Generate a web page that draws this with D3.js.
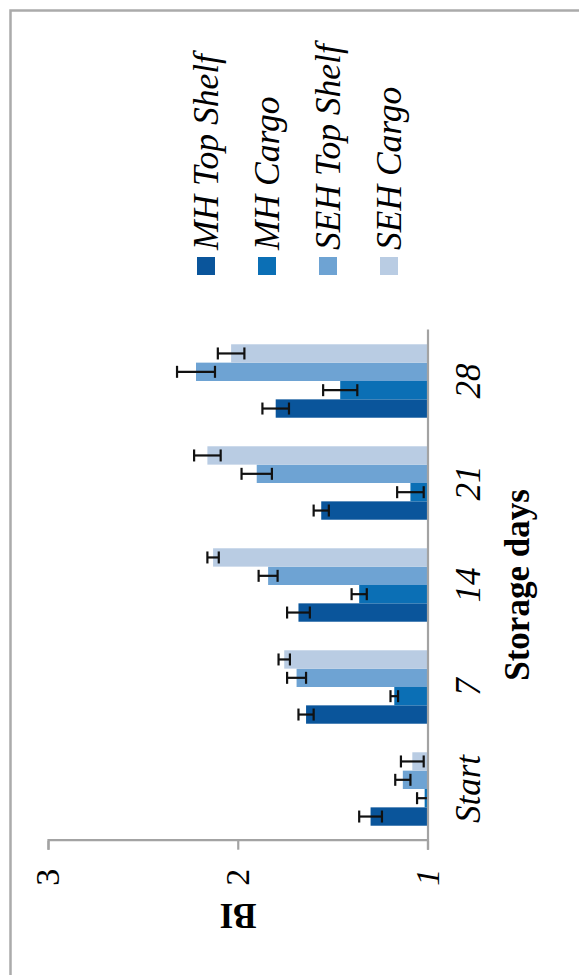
<!DOCTYPE html>
<html>
<head>
<meta charset="utf-8">
<script src="https://cdn.jsdelivr.net/npm/d3@7"></script>
<style>
  html, body { margin: 0; padding: 0; background: #fff; }
  svg { display: block; }
  text { font-family: "Liberation Serif", "Times New Roman", serif; fill: #000; }
</style>
</head>
<body>
<svg id="chart" width="579" height="975"></svg>
<script>
// Storage days (category axis)
const categories = ["Start", "7", "14", "21", "28"];
const series = ["MH Top Shelf", "MH Cargo", "SEH Top Shelf", "SEH Cargo"];
const colors = ["#0A559B", "#0B6FB5", "#6EA3D3", "#B9CCE3"];

// BI values and error half-widths per series
const mhTopShelf     = [1.30, 1.64, 1.68, 1.56, 1.80];
const mhTopShelfErr  = [0.06, 0.04, 0.06, 0.04, 0.07];
const mhCargo        = [1.015, 1.175, 1.36, 1.09, 1.46];
const mhCargoErr     = [0.04, 0.02, 0.04, 0.07, 0.09];
const sehTopShelf    = [1.13, 1.69, 1.84, 1.90, 2.22];
const sehTopShelfErr = [0.04, 0.05, 0.05, 0.08, 0.10];
const sehCargo       = [1.08, 1.755, 2.13, 2.16, 2.035];
const sehCargoErr    = [0.06, 0.03, 0.03, 0.07, 0.07];

const valueTicks = [1, 2, 3];
const yTitle = "BI";
const xTitle = "Storage days";

const values = [mhTopShelf, mhCargo, sehTopShelf, sehCargo];
const errors = [mhTopShelfErr, mhCargoErr, sehTopShelfErr, sehCargoErr];

const rows = [];
categories.forEach((c, ci) => {
  series.forEach((s, si) => {
    rows.push({ cat: c, ser: s, si, v: values[si][ci], e: errors[si][ci] });
  });
});

const svg = d3.select("#chart");

// page frame
svg.append("path")
  .attr("d", "M10.5,975 V10.5 H579")
  .attr("fill", "none")
  .attr("stroke", "#ababab")
  .attr("stroke-width", 2.5);

// the whole figure is laid out upright, then turned a quarter turn counter-clockwise
const g = svg.append("g").attr("transform", "translate(0,975) rotate(-90)");

const x = d3.scaleBand().domain(categories).range([135, 645])
  .paddingInner(0.28).paddingOuter(0.14);
const xi = d3.scaleBand().domain(series).range([0, x.bandwidth()]);
const y = d3.scaleLinear().domain([1, 3]).range([427.5, 48]);

// bars
g.append("g").selectAll("rect").data(rows).join("rect")
  .attr("x", d => x(d.cat) + xi(d.ser))
  .attr("width", xi.bandwidth())
  .attr("y", d => y(d.v))
  .attr("height", d => y(1) - y(d.v))
  .attr("fill", d => colors[d.si]);

// error bars
const cap = 12;
const eb = g.append("g").attr("stroke", "#111").attr("stroke-width", 2.2).attr("fill", "none");
rows.forEach(d => {
  const cx = x(d.cat) + xi(d.ser) + xi.bandwidth() / 2;
  const hi = y(d.v + d.e);
  const loV = d.v - d.e;
  const lo = y(Math.max(1, loV));
  eb.append("line").attr("x1", cx).attr("x2", cx).attr("y1", hi).attr("y2", lo);
  eb.append("line").attr("x1", cx - cap / 2).attr("x2", cx + cap / 2).attr("y1", hi).attr("y2", hi);
  if (loV >= 1) {
    eb.append("line").attr("x1", cx - cap / 2).attr("x2", cx + cap / 2).attr("y1", lo).attr("y2", lo);
  }
});

// value axis
const yAxis = g.append("g").attr("transform", "translate(134.3,0)")
  .call(d3.axisLeft(y).tickValues(valueTicks).tickSize(9).tickFormat(d3.format("d")));
yAxis.select(".domain").attr("stroke", "#a3a3a3").attr("stroke-width", 2.2);
yAxis.selectAll(".tick line").attr("stroke", "#a3a3a3").attr("stroke-width", 2.2);
yAxis.selectAll(".tick text")
  .attr("x", -28)
  .attr("font-size", 34)
  .style("font-family", "'Liberation Serif', serif")
  .style("font-style", d => d === 1 ? "italic" : "normal")
  .attr("fill", "#000");

// category axis
const xAxis = g.append("g").attr("transform", `translate(0,${y(1)})`)
  .call(d3.axisBottom(x).tickSize(0).tickSizeOuter(0).tickPadding(0));
xAxis.select(".domain").attr("stroke", "#a3a3a3").attr("stroke-width", 2.2);
xAxis.selectAll(".tick text")
  .attr("y", 52.5)
  .attr("dy", 0)
  .attr("font-size", 35)
  .style("font-style", "italic")
  .style("font-family", "'Liberation Serif', serif")
  .attr("fill", "#000");

// axis titles
g.append("text")
  .attr("x", (x.range()[0] + x.range()[1]) / 2)
  .attr("y", 529)
  .attr("text-anchor", "middle")
  .attr("font-size", 35)
  .attr("font-weight", "bold")
  .text(xTitle);

g.append("text")
  .attr("transform", "translate(71,238) rotate(-90)")
  .attr("text-anchor", "middle")
  .attr("font-size", 35)
  .attr("font-weight", "bold")
  .text(yTitle);

// legend
const lg = g.append("g");
series.forEach((s, i) => {
  const top = 197 + i * 61;
  lg.append("rect")
    .attr("x", 700).attr("y", top)
    .attr("width", 18).attr("height", 18)
    .attr("fill", colors[i]);
  lg.append("text")
    .attr("x", 725).attr("y", top + 21)
    .attr("font-size", 35.5)
    .style("font-style", "italic")
    .text(s);
});
</script>
</body>
</html>
